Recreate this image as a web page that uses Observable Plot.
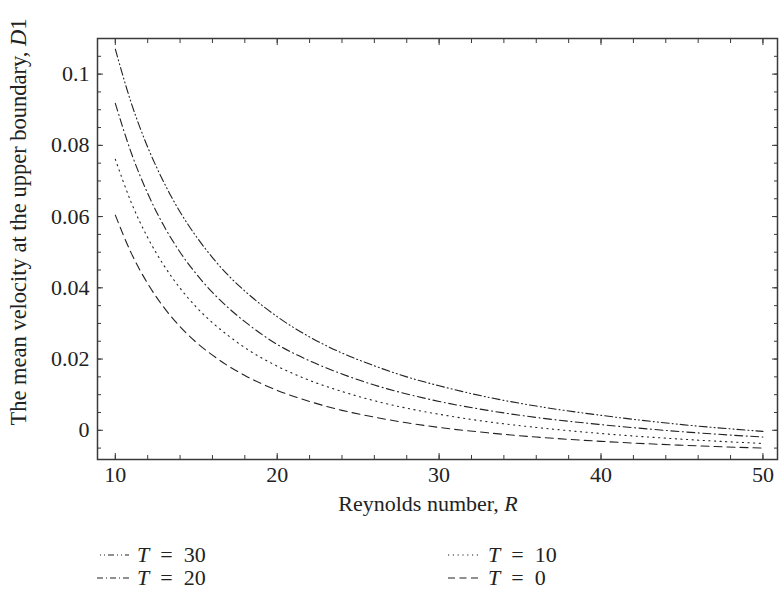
<!DOCTYPE html>
<html><head><meta charset="utf-8">
<script src="https://cdn.jsdelivr.net/npm/d3@7"></script>
<script src="https://cdn.jsdelivr.net/npm/@observablehq/plot@0.6"></script>
<style>
body{margin:0;background:#fff;font-family:"Liberation Serif","DejaVu Serif",serif;color:#222}
#chart{width:780px;height:520px}
#legend{position:relative;width:780px;height:70px}
.item{position:absolute;display:flex;align-items:center;font-size:22px;height:24px;white-space:pre}
.item svg{margin-right:8px}
.eq{margin:0 0.5em}
</style></head><body>
<div id="chart"></div>
<div id="legend"></div>
<script>
// Reynolds number R
const reynolds = [10, 11, 12, 13, 14, 15, 16, 17, 18, 20, 22, 24, 26, 28, 30, 33, 36, 40, 45, 50];
// mean velocity at the upper boundary, D1, for each T
const t30 = [0.1070, 0.0917, 0.0795, 0.0696, 0.0613, 0.0544, 0.0485, 0.0434, 0.0391, 0.0319, 0.0262, 0.0217, 0.0181, 0.0150, 0.0125, 0.0093, 0.0068, 0.0042, 0.0016, -0.0003];
const t20 = [0.0918, 0.0777, 0.0665, 0.0574, 0.0500, 0.0439, 0.0387, 0.0343, 0.0305, 0.0241, 0.0195, 0.0158, 0.0127, 0.0102, 0.0081, 0.0056, 0.0036, 0.0016, -0.0004, -0.0019];
const t10 = [0.0761, 0.0638, 0.0541, 0.0463, 0.0399, 0.0346, 0.0302, 0.0265, 0.0232, 0.0180, 0.0140, 0.0109, 0.0083, 0.0062, 0.0045, 0.0024, 0.0008, -0.0009, -0.0025, -0.0037];
const t0  = [0.0604, 0.0496, 0.0412, 0.0345, 0.0291, 0.0247, 0.0211, 0.0180, 0.0154, 0.0112, 0.0081, 0.0056, 0.0037, 0.0021, 0.0008, -0.0007, -0.0019, -0.0031, -0.0042, -0.0050];
const seriesNames = ["T = 30", "T = 20", "T = 10", "T = 0"];
const seriesValues = [t30, t20, t10, t0];

// ticks
const xMajor = [10, 20, 30, 40, 50];
const xMinor = [10, 12, 14, 16, 18, 20, 22, 24, 26, 28, 30, 32, 34, 36, 38, 40, 42, 44, 46, 48, 50];
const yMajor = [0, 0.02, 0.04, 0.06, 0.08, 0.1];
const yTickLabels = ["0", "0.02", "0.04", "0.06", "0.08", "0.1"];
const yMinor = [-0.005, 0, 0.005, 0.01, 0.015, 0.02, 0.025, 0.03, 0.035, 0.04, 0.045, 0.05, 0.055, 0.06, 0.065, 0.07, 0.075, 0.08, 0.085, 0.09, 0.095, 0.1, 0.105];

const dashes = ["8,3,1,3,1,3", "8,3.5,1,3.5", "1.2,4.4", "8,5"];
const legendDash = ["6,3,1,3,1,3", "6,3,1,3", "1.2,3.6", "7,4.5"];
const legendOffset = [6, 0, 0, 0];

const rows = [];
seriesNames.forEach((name, s) => seriesValues[s].forEach((v, i) => rows.push({R: reynolds[i], D: v, T: name})));

const ink = "#222";
const frameInk = "#3a3a3a";
const font = "'Liberation Serif','DejaVu Serif',serif";

const plot = Plot.plot({
  width: 780, height: 520,
  marginLeft: 97, marginRight: 3, marginTop: 38, marginBottom: 61,
  x: {domain: [8.9, 50.9]},
  y: {domain: [-0.0082, 0.110]},
  style: {fontFamily: font, fontSize: "22px", color: ink, background: "#fff"},
  marks: [
    ...seriesNames.map((name, s) => Plot.line(rows.filter(d => d.T === name), {
      x: "R", y: "D", stroke: ink, strokeWidth: 1.1, strokeDasharray: dashes[s], curve: "monotone-x"
    })),
    Plot.frame({stroke: frameInk, strokeWidth: 1.5}),
    Plot.axisX(xMinor, {anchor: "bottom", tickSize: -4, tickFormat: () => "", label: null, stroke: frameInk}),
    Plot.axisX(xMinor, {anchor: "top", tickSize: -4, tickFormat: () => "", label: null, stroke: frameInk}),
    Plot.axisX(xMajor, {anchor: "bottom", tickSize: -6, tickFormat: () => "", label: null, stroke: frameInk}),
    Plot.axisX(xMajor, {anchor: "top", tickSize: -6, tickFormat: () => "", label: null, stroke: frameInk}),
    Plot.axisX(xMajor, {anchor: "bottom", tickSize: 0, tickPadding: 7, label: null, fill: ink}),
    Plot.axisY(yMinor, {anchor: "left", tickSize: -4, tickFormat: () => "", label: null, stroke: frameInk}),
    Plot.axisY(yMinor, {anchor: "right", tickSize: -4, tickFormat: () => "", label: null, stroke: frameInk}),
    Plot.axisY(yMajor, {anchor: "left", tickSize: -6, tickFormat: () => "", label: null, stroke: frameInk}),
    Plot.axisY(yMajor, {anchor: "right", tickSize: -6, tickFormat: () => "", label: null, stroke: frameInk}),
    Plot.axisY(yMajor, {anchor: "left", tickSize: 0, tickPadding: 8, label: null, fill: ink,
      tickFormat: d => yTickLabels[yMajor.indexOf(d)]})
  ]
});
document.getElementById("chart").appendChild(plot);

// axis titles with italic symbols
const svg = d3.select(plot);
const xt = svg.append("text")
  .attr("x", 428).attr("y", 511).attr("text-anchor", "middle")
  .attr("font-family", font).attr("font-size", 22).attr("fill", ink);
xt.append("tspan").text("Reynolds number, ");
xt.append("tspan").attr("font-style", "italic").text("R");

const yt = svg.append("text")
  .attr("transform", "translate(26,222) rotate(-90)").attr("text-anchor", "middle")
  .attr("font-family", font).attr("font-size", 22.5).attr("fill", ink);
yt.append("tspan").text("The mean velocity at the upper boundary, ");
yt.append("tspan").attr("font-style", "italic").text("D");
yt.append("tspan").text("1");

// legend
const legendPos = [[97, 23], [97, 46], [448, 23], [448, 46]];
const legend = d3.select("#legend");
seriesNames.forEach((name, s) => {
  const item = legend.append("div").attr("class", "item")
    .style("left", legendPos[s][0] + "px").style("top", legendPos[s][1] + "px");
  const sw = item.append("svg").attr("width", 32).attr("height", 10);
  sw.append("line").attr("x1", 0).attr("x2", 32).attr("y1", 5).attr("y2", 5)
    .attr("stroke", ink).attr("stroke-width", 1.1)
    .attr("stroke-dasharray", legendDash[s]).attr("stroke-dashoffset", legendOffset[s]);
  const parts = name.split(" = ");
  const label = item.append("span");
  label.append("i").text(parts[0]);
  label.append("span").attr("class", "eq").text("=");
  label.append("span").text(parts[1]);
});
</script>
</body></html>
